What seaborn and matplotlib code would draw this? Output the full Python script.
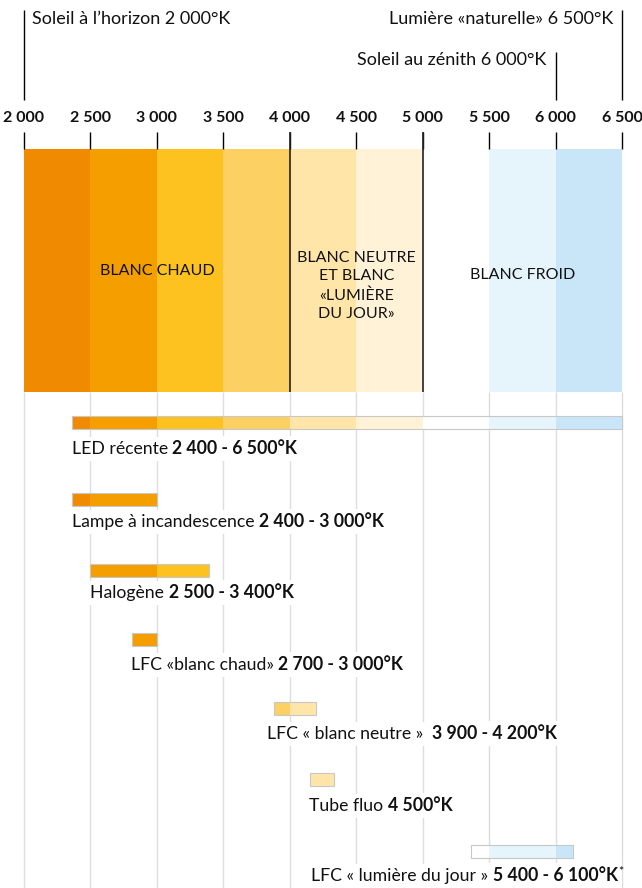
import matplotlib
matplotlib.use('Agg')
import matplotlib.pyplot as plt
import seaborn as sns
import pandas as pd

# Colour temperature scale (Kelvin)
ticks = [2000, 2500, 3000, 3500, 4000, 4500, 5000, 5500, 6000, 6500]
tick_labels = ['2 000', '2 500', '3 000', '3 500', '4 000', '4 500', '5 000', '5 500', '6 000', '6 500']
# colour of each 500K slice of the band
band_colors = ['#F08A00', '#F49E00', '#FDC220', '#FDD064', '#FFE5A8',
               '#FFF2D6', '#FFFFFF', '#E6F4FC', '#C8E6F8']
zone_bounds = [4000, 5000]

zones = ['BLANC CHAUD', 'BLANC NEUTRE\nET BLANC\n«LUMIÈRE\nDU JOUR»', 'BLANC FROID']
zone_centers = [3000, 4500, 5750]

refs = ['Soleil à l’horizon 2 000°K', 'Soleil au zénith 6 000°K', 'Lumière «naturelle» 6 500°K']
ref_temps = [2000, 6000, 6500]

lamps = ['LED récente ', 'Lampe à incandescence ', 'Halogène ', 'LFC «blanc chaud» ',
         'LFC « blanc neutre »  ', 'Tube fluo ', 'LFC « lumière du jour » ']
lamp_ranges = ['2 400 - 6 500°K', '2 400 - 3 000°K', '2 500 - 3 400°K', '2 700 - 3 000°K',
               '3 900 - 4 200°K', '4 500°K', '5 400 - 6 100°K']
lamp_notes = ['', '', '', '', '', '', '*']
bar_start = [2360, 2360, 2500, 2810, 3880, 4150, 5360]
bar_end = [6500, 3000, 3390, 3000, 4200, 4330, 6130]

# layout (pixels from the top of the figure)
ref_top = [10, 52, 10]
ref_text_y = [19, 60, 19]
row_y = [422.5, 499, 570.5, 639, 708, 779.5, 851]
label_y = [448, 521, 592, 664, 733, 805, 875]
label_x = [2360, 2360, 2500, 2805, 3830, 4145, 4160]

sns.set_theme(style='white')
plt.rcParams['font.family'] = ['Lato', 'DejaVu Sans']

fig = plt.figure(figsize=(6.42, 8.88), dpi=100)
ax = fig.add_axes([0, 0, 1, 1])
ax.set_xlim(1819.4, 6650.5)
ax.set_ylim(888, 0)
ax.axis('off')

# reference lines at the top
for name, t, top, ty in zip(refs, ref_temps, ref_top, ref_text_y):
    ax.vlines(t, top, 100, color='black', lw=1)
    if t == 2000:
        ax.annotate(name, xy=(t, ty), xytext=(8, 0), textcoords='offset pixels',
                    ha='left', va='center', fontsize=13, color='#111111')
    else:
        ax.annotate(name, xy=(t, ty), xytext=(-9, 0), textcoords='offset pixels',
                    ha='right', va='center', fontsize=13, color='#111111')

# tick labels and ticks
for t, lab in zip(ticks, tick_labels):
    ax.text(t, 118, lab, ha='center', va='center', fontsize=11.5, fontweight='bold', color='#111111')
ax.vlines(ticks, 132, 149, color='black', lw=1)
ax.vlines(ticks, 392, 888, color='#dddddd', lw=1, zorder=0)

# colour band
band = pd.DataFrame({'left': ticks[:-1], 'color': band_colors})
ax.barh(y=270.5, width=500, left=band['left'], height=243, color=band['color'], lw=0, zorder=1)
ax.vlines(zone_bounds, 132, 392, color='#222222', lw=1.2, zorder=2)
ax.text(zone_centers[0], 271, zones[0], ha='center', va='center', fontsize=11.5, color='#111111', zorder=3)
ax.text(zone_centers[1], 286, zones[1], ha='center', va='center', fontsize=11.5, color='#111111',
        linespacing=1.4, zorder=3)
ax.text(zone_centers[2], 275, zones[2], ha='center', va='center', fontsize=11.5, color='#111111', zorder=3)

# lamp bars, coloured by the slices they cover
for s, e, y in zip(bar_start, bar_end, row_y):
    for left, col in zip(ticks[:-1], band_colors):
        a, b = max(s, left), min(e, left + 500)
        if b > a:
            ax.barh(y=y, width=b - a, left=a, height=13, color=col, lw=0, zorder=2)
    ax.barh(y=y, width=e - s, left=s, height=13, fill=False, edgecolor='#c8c8c8', lw=0.8, zorder=2)

# lamp labels: normal name followed by bold range
fig.canvas.draw()
renderer = fig.canvas.get_renderer()
inv = ax.transData.inverted()
box = dict(facecolor='white', edgecolor='none', pad=3)
for name, rng, note, x, y in zip(lamps, lamp_ranges, lamp_notes, label_x, label_y):
    t1 = ax.text(x, y + 6, name, ha='left', va='baseline', fontsize=12.7, color='#111111',
                 bbox=box, zorder=4)
    x1 = inv.transform((t1.get_window_extent(renderer).x1, 0))[0]
    t2 = ax.text(x1, y + 6, rng, ha='left', va='baseline', fontsize=12.7, fontweight='bold',
                 color='#111111', bbox=box, zorder=4)
    if note:
        x2 = inv.transform((t2.get_window_extent(renderer).x1, 0))[0]
        ax.text(x2 + 6, y + 1, note, ha='left', va='baseline', fontsize=9, color='#111111', zorder=4)

fig.savefig('out.png', dpi=100)
